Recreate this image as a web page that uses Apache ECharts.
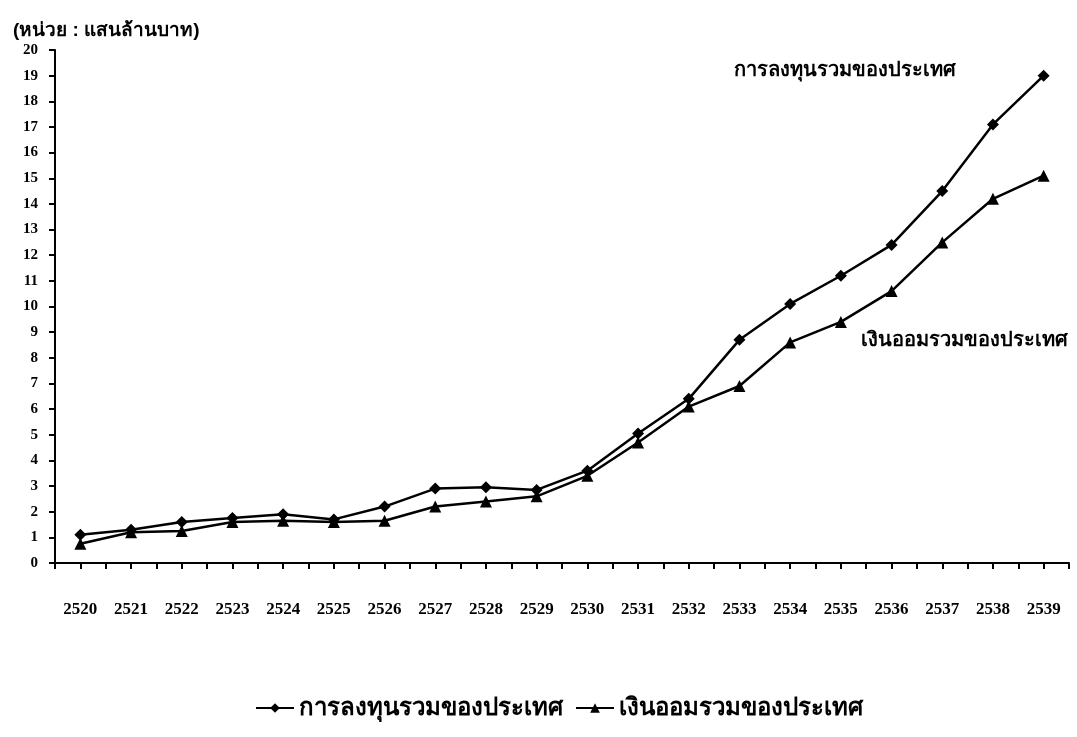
<!DOCTYPE html>
<html>
<head>
<meta charset="utf-8">
<script src="https://cdn.jsdelivr.net/npm/echarts@6/dist/echarts.min.js"></script>
<style>
  html, body { margin: 0; padding: 0; background: #fff; }
  #chart { width: 1077px; height: 737px; }
</style>
</head>
<body>
<div id="chart"></div>
<script>
// ปี พ.ศ.
const years = [2520, 2521, 2522, 2523, 2524, 2525, 2526, 2527, 2528, 2529,
  2530, 2531, 2532, 2533, 2534, 2535, 2536, 2537, 2538, 2539];

// การลงทุนรวมของประเทศ (แสนล้านบาท)
const investment = [1.1, 1.3, 1.6, 1.75, 1.9, 1.7, 2.2, 2.9, 2.95, 2.85,
  3.6, 5.05, 6.4, 8.7, 10.1, 11.2, 12.4, 14.5, 17.1, 19.0];

// เงินออมรวมของประเทศ (แสนล้านบาท)
const savings = [0.75, 1.2, 1.25, 1.6, 1.65, 1.6, 1.65, 2.2, 2.4, 2.6,
  3.4, 4.7, 6.1, 6.9, 8.6, 9.4, 10.6, 12.5, 14.2, 15.1];

const seriesNames = ["การลงทุนรวมของประเทศ", "เงินออมรวมของประเทศ"];
const unitText = "(หน่วย : แสนล้านบาท)";

const labelFont = "'Liberation Serif', 'DejaVu Serif', serif";

function pairs(values) {
  let out = [];
  for (let i = 0; i < years.length; i++) {
    out.push([years[i], values[i]]);
  }
  return out;
}

const chart = echarts.init(document.getElementById("chart"));

const option = {
  backgroundColor: "#ffffff",
  animation: false,
  title: {
    text: unitText,
    left: 8,
    top: 16,
    textStyle: { fontSize: 19, fontWeight: "bold", color: "#000" },
  },
  legend: {
    bottom: 12,
    left: 250,
    itemWidth: 38,
    itemHeight: 12,
    itemGap: 12,
    textStyle: { fontSize: 24, fontWeight: "bold", color: "#000" },
    data: seriesNames,
  },
  grid: { left: 55, right: 8, top: 50, bottom: 174 },
  xAxis: {
    type: "value",
    min: 2519.5,
    max: 2539.5,
    interval: 0.5,
    splitLine: { show: false },
    axisLine: { lineStyle: { color: "#000", width: 2 } },
    axisTick: { length: 6, lineStyle: { color: "#000", width: 2 } },
    axisLabel: {
      margin: 38,
      color: "#000",
      fontFamily: labelFont,
      fontWeight: "bold",
      fontSize: 17,
      formatter: (v) => (Number.isInteger(v) ? String(v) : ""),
    },
  },
  yAxis: {
    type: "value",
    min: 0,
    max: 20,
    interval: 1,
    splitLine: { show: false },
    axisLine: { show: true, lineStyle: { color: "#000", width: 2 } },
    axisTick: { show: true, length: 6, lineStyle: { color: "#000", width: 2 } },
    axisLabel: {
      margin: 17,
      color: "#000",
      fontFamily: labelFont,
      fontWeight: "bold",
      fontSize: 15,
    },
  },
  graphic: [
    {
      type: "text",
      left: 734,
      top: 60,
      style: { text: seriesNames[0], fontSize: 20, fontWeight: "bold", fill: "#000" },
    },
    {
      type: "text",
      left: 861,
      top: 330,
      style: { text: seriesNames[1], fontSize: 20, fontWeight: "bold", fill: "#000" },
    },
  ],
  series: [
    {
      name: seriesNames[0],
      type: "line",
      data: pairs(investment),
      symbol: "diamond",
      symbolSize: 12,
      itemStyle: { color: "#000" },
      lineStyle: { color: "#000", width: 2.5 },
    },
    {
      name: seriesNames[1],
      type: "line",
      data: pairs(savings),
      symbol: "triangle",
      symbolSize: 12,
      itemStyle: { color: "#000" },
      lineStyle: { color: "#000", width: 2.5 },
    },
  ],
};

chart.setOption(option);
</script>
</body>
</html>
